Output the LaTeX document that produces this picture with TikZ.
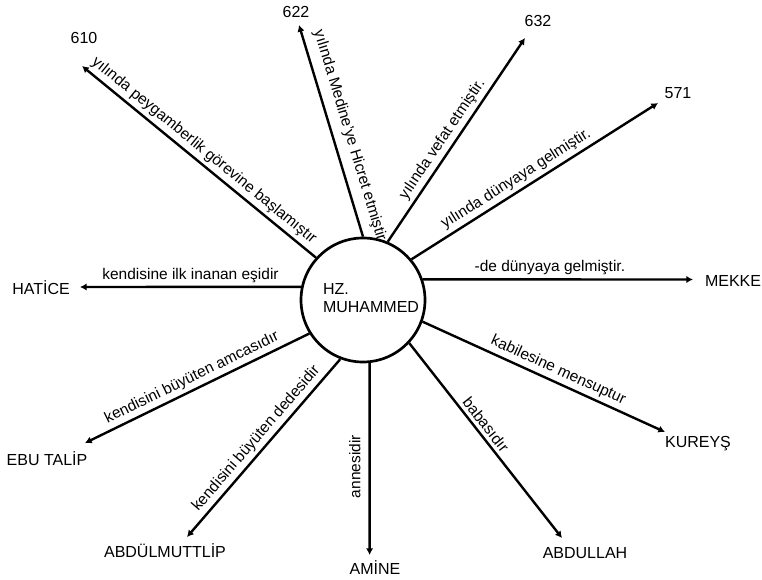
\documentclass[tikz,border=0pt]{standalone}
\usepackage{fontspec}
\setmainfont{Liberation Sans}
\usetikzlibrary{arrows.meta}

\begin{document}
\begin{tikzpicture}[x=0.75pt, y=-0.75pt,
	every node/.style={font=\fontsize{12}{14}\selectfont},
	arr/.style={line width=1.8pt, -{Latex[length=5pt,width=5.5pt]}},
	lbl/.style={sloped, above, inner sep=2.5pt, font=\fontsize{11.6}{14}\selectfont}]
	\useasboundingbox (0,0) rectangle (762,580);
	\node[draw, circle, line width=2pt, minimum size=93pt] (m) at (363,300) {};
	\node[align=left, inner sep=0pt] (mt) at (371,298) {HZ.\\MUHAMMED};
	\node (n610) at (84,38) {610};
	\node (n622) at (296,12) {622};
	\node (n632) at (538,21) {632};
	\node (n571) at (678,93) {571};
	\node (mekke) at (733,281) {MEKKE};
	\node (kureys) at (698,444) {KUREYŞ};
	\node (abdullah) at (585,553) {ABDULLAH};
	\node (amine) at (375,568) {AMİNE};
	\node (abdulmuttalip) at (165,551) {ABDÜLMUTTLİP};
	\node (ebutalip) at (47,459) {EBU TALİP};
	\node (hatice) at (41,288) {HATİCE};
	\coordinate (t610) at (82,66);
	\coordinate (t622) at (299,25);
	\coordinate (t632) at (525,38);
	\coordinate (t571) at (658,103);
	\coordinate (tmekke) at (693,279.5);
	\coordinate (tkureys) at (665,432);
	\coordinate (tabdullah) at (562,538);
	\coordinate (tamine) at (369.6,555);
	\coordinate (tabdulmuttalip) at (187,537);
	\coordinate (tebutalip) at (85,443);
	\coordinate (thatice) at (80,287);
	\draw[arr] (m.138) -- node[lbl, pos=.51] {yılında peygamberlik görevine başlamıştır} (t610);
	\draw[arr] (m.90) -- node[lbl, pos=.455, inner sep=6pt] {yılında Medine'ye Hicret etmiştir} (t622);
	\draw[arr] (m.67) -- node[lbl, pos=.47] {yılında vefat etmiştir.} (t632);
	\draw[arr] (m.40) -- node[lbl, pos=.45] {yılında dünyaya gelmiştir.} (t571);
	\draw[arr] (m.19) -- node[lbl, pos=.47] {-de dünyaya gelmiştir.} (tmekke);
	\draw[arr] (m.-20) -- node[lbl, pos=.54] {kabilesine mensuptur} (tkureys);
	\draw[arr] (m.-43) -- node[lbl, pos=.45] {babasıdır} (tabdullah);
	\draw[arr] (m.-84) -- node[lbl, pos=.54, inner sep=6pt] {annesidir} (tamine);
	\draw[arr] (m.-111) -- node[lbl, pos=.49] {kendisini büyüten dedesidir} (tabdulmuttalip);
	\draw[arr] (m.212) -- node[lbl, pos=.5] {kendisini büyüten amcasıdır} (tebutalip);
	\draw[arr] (m.168) -- node[lbl, pos=.5] {kendisine ilk inanan eşidir} (thatice);
\end{tikzpicture}
\end{document}
